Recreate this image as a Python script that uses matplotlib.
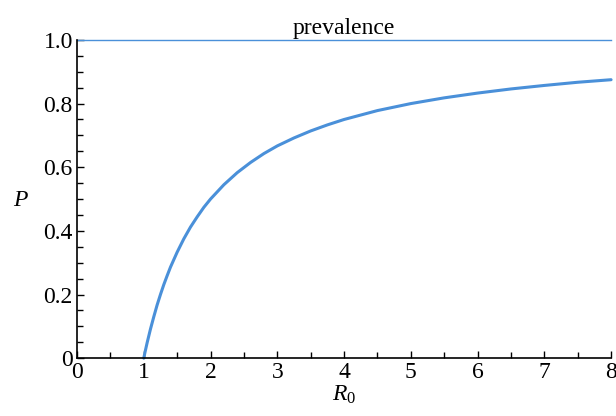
import matplotlib
matplotlib.use("Agg")
import matplotlib.pyplot as plt
from matplotlib.ticker import MultipleLocator

plt.rcParams['font.family'] = ['Liberation Serif', 'DejaVu Serif']
plt.rcParams['mathtext.fontset'] = 'custom'
plt.rcParams['mathtext.it'] = 'Liberation Serif:italic'
plt.rcParams['mathtext.rm'] = 'Liberation Serif'

# values
r0 = [1.0, 1.02, 1.05, 1.1, 1.15, 1.2, 1.25, 1.3, 1.35, 1.4, 1.5, 1.6, 1.7,
      1.8, 1.9, 2.0, 2.2, 2.4, 2.6, 2.8, 3.0, 3.25, 3.5, 3.75, 4.0, 4.5,
      5.0, 5.5, 6.0, 6.5, 7.0, 7.5, 8.0]
prev = [0.0, 0.02, 0.048, 0.091, 0.13, 0.167, 0.2, 0.231, 0.259, 0.286,
        0.333, 0.375, 0.412, 0.444, 0.474, 0.5, 0.545, 0.583, 0.615, 0.643,
        0.667, 0.692, 0.714, 0.733, 0.75, 0.778, 0.8, 0.818, 0.833, 0.846,
        0.857, 0.867, 0.875]
upper = 1.0

blue = '#4a90d9'

fig = plt.figure(figsize=(6.16, 4.16), dpi=100)
ax = fig.add_axes([0.125, 0.139, 0.867, 0.765])

ax.plot(r0, prev, color=blue, lw=2.2, solid_capstyle='round',
        solid_joinstyle='round', clip_on=False)
ax.axhline(upper, color=blue, lw=1.0, clip_on=False)

ax.set_xlim(0, 8)
ax.set_ylim(0, 1.0)
ax.xaxis.set_major_locator(MultipleLocator(1))
ax.xaxis.set_minor_locator(MultipleLocator(0.5))
ax.yaxis.set_minor_locator(MultipleLocator(0.05))
ax.set_yticks([0, 0.2, 0.4, 0.6, 0.8, 1.0])
ax.set_yticklabels(['0', '0.2', '0.4', '0.6', '0.8', '1.0'])

for s in ['top', 'right']:
    ax.spines[s].set_visible(False)
for s in ['left', 'bottom']:
    ax.spines[s].set_linewidth(1.2)

ax.tick_params(which='both', direction='in', width=1.0, labelsize=17, pad=3)
ax.tick_params(which='major', length=5)
ax.tick_params(which='minor', length=4)

ax.set_title('prevalence', fontsize=17, pad=4)
ax.set_xlabel('$R_0$', fontsize=17, labelpad=0)
ax.set_ylabel('$P$', fontsize=17, rotation=0, ha='center', va='center')
ax.yaxis.set_label_coords(-0.105, 0.495)

fig.savefig('out.png', dpi=100)
